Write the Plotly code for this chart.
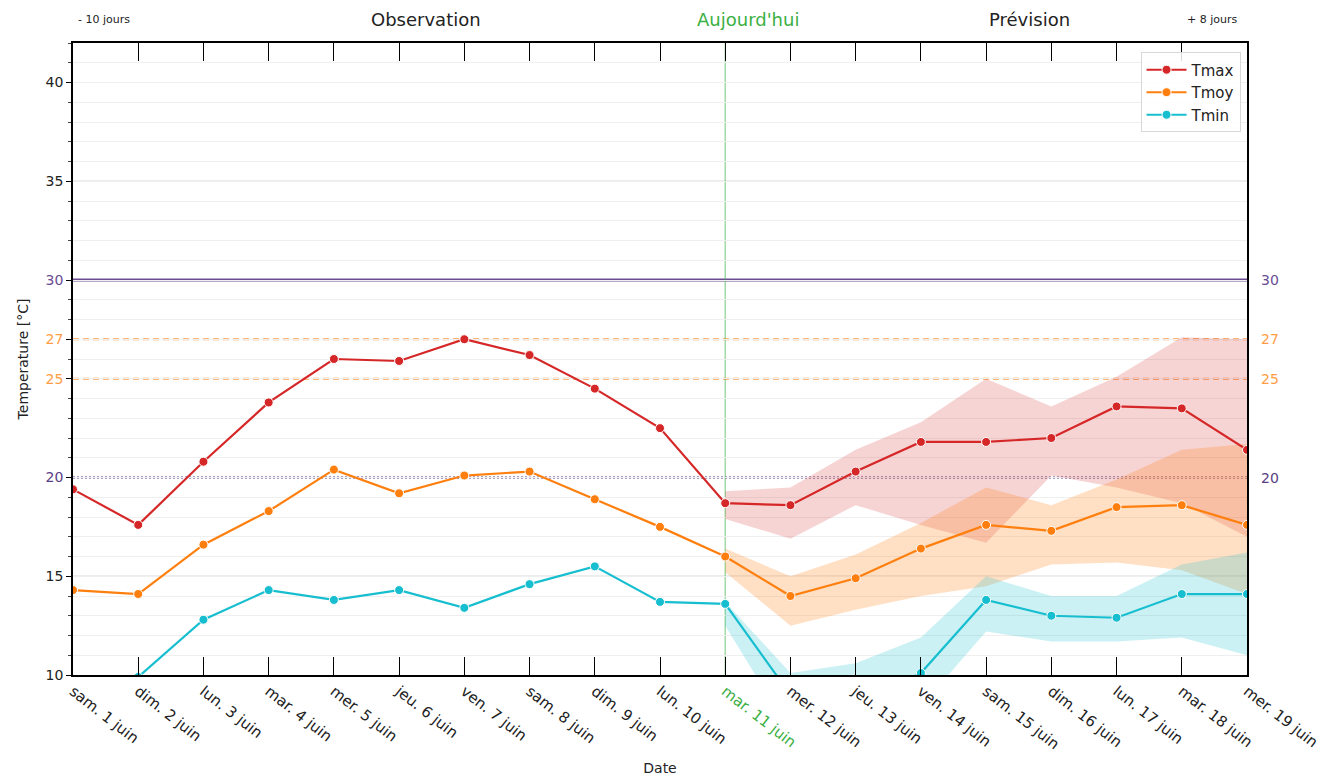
import plotly.graph_objects as go

# ---------------- data ----------------
dates = ["sam. 1 juin", "dim. 2 juin", "lun. 3 juin", "mar. 4 juin", "mer. 5 juin",
         "jeu. 6 juin", "ven. 7 juin", "sam. 8 juin", "dim. 9 juin", "lun. 10 juin",
         "mar. 11 juin", "mer. 12 juin", "jeu. 13 juin", "ven. 14 juin", "sam. 15 juin",
         "dim. 16 juin", "lun. 17 juin", "mar. 18 juin", "mer. 19 juin"]
today = "mar. 11 juin"

tmax = [19.4, 17.6, 20.8, 23.8, 26.0, 25.9, 27.0, 26.2, 24.5, 22.5,
        18.7, 18.6, 20.3, 21.8, 21.8, 22.0, 23.6, 23.5, 21.4]
tmoy = [14.3, 14.1, 16.6, 18.3, 20.4, 19.2, 20.1, 20.3, 18.9, 17.5,
        16.0, 14.0, 14.9, 16.4, 17.6, 17.3, 18.5, 18.6, 17.6]
tmin = [8.6, 9.9, 12.8, 14.3, 13.8, 14.3, 13.4, 14.6, 15.5, 13.7,
        13.6, 9.0, 8.5, 10.1, 13.8, 13.0, 12.9, 14.1, 14.1]

forecast_dates = dates[dates.index(today):]
tmax_hi = [19.3, 19.5, 21.4, 22.8, 25.0, 23.6, 25.1, 27.1, 27.0]
tmax_lo = [17.9, 16.9, 18.6, 17.6, 16.7, 20.1, 19.5, 18.7, 17.0]
tmoy_hi = [16.4, 15.0, 16.1, 17.7, 19.5, 18.6, 19.9, 21.4, 21.7]
tmoy_lo = [15.2, 12.5, 13.3, 14.0, 14.5, 15.6, 15.7, 15.3, 14.1]
tmin_hi = [13.7, 10.1, 10.6, 11.9, 15.0, 14.0, 14.0, 15.6, 16.2]
tmin_lo = [12.5, 7.1, 7.5, 8.4, 12.2, 11.7, 11.7, 11.9, 11.0]

# threshold reference lines
thresholds = [30, 27, 25, 20]
threshold_colors = ["#6a4c93", "#ff9d45", "#ff9d45", "#5a3d85"]
threshold_dash = ["solid", "6px,4px", "6px,4px", "2px,2px"]
threshold_width = [3, 1.8, 1.8, 1.8]

y_ticks = [10, 15, 20, 25, 27, 30, 35, 40]
y_range = [10, 42]

top_labels = ["- 10 jours", "Observation", "Aujourd'hui", "Prévision", "+ 8 jours"]

# ---------------- styling ----------------
FONT = "DejaVu Sans"
C_MAX, C_MOY, C_MIN = "#d62728", "#ff7f0e", "#17becf"
F_MAX, F_MOY, F_MIN = "rgba(214,39,40,0.20)", "rgba(255,127,14,0.24)", "rgba(23,190,207,0.22)"
GREEN = "#3cb043"

fig = go.Figure()

# uncertainty bands
for hi, lo, fc in [(tmax_hi, tmax_lo, F_MAX), (tmoy_hi, tmoy_lo, F_MOY), (tmin_hi, tmin_lo, F_MIN)]:
    fig.add_trace(go.Scatter(x=forecast_dates, y=hi, mode="lines", line=dict(width=0),
                             showlegend=False, hoverinfo="skip"))
    fig.add_trace(go.Scatter(x=forecast_dates, y=lo, mode="lines", line=dict(width=0),
                             fill="tonexty", fillcolor=fc, showlegend=False, hoverinfo="skip"))

# main series
for name, vals, col in [("Tmax", tmax, C_MAX), ("Tmoy", tmoy, C_MOY), ("Tmin", tmin, C_MIN)]:
    fig.add_trace(go.Scatter(x=dates, y=vals, name=name, mode="lines+markers",
                             line=dict(color=col, width=2.2),
                             marker=dict(size=9, color=col, line=dict(color="white", width=1))))

def ylab(v):
    if v in thresholds:
        c = threshold_colors[thresholds.index(v)]
        return f"<span style='color:{c}'>{v}</span>"
    return str(v)

xticktext = [f"<span style='color:{GREEN}'>{d}</span>" if d == today else d for d in dates]

shapes = []
for v in range(10, 45, 5):
    if v not in thresholds and y_range[0] < v < y_range[1]:
        shapes.append(dict(type="line", xref="paper", yref="y", x0=0, x1=1, y0=v, y1=v,
                           line=dict(color="#b4b4b4", width=1.2), layer="below"))
for v, c, d, w in zip(thresholds, threshold_colors, threshold_dash, threshold_width):
    shapes.append(dict(type="line", xref="paper", yref="y", x0=0, x1=1, y0=v, y1=v,
                       line=dict(color=c, width=w, dash=d), layer="below"))
shapes.append(dict(type="line", xref="x", yref="paper", x0=today, x1=today, y0=0, y1=1,
                   line=dict(color="rgba(60,176,67,0.6)", width=1.2), layer="below"))

annotations = []
for v, c in zip(thresholds, threshold_colors):
    annotations.append(dict(x=1, xref="paper", y=v, yref="y", text=str(v), showarrow=False,
                            xanchor="left", xshift=12, font=dict(size=14, color=c, family=FONT)))
top_x = [0.026, 0.301, 0.575, 0.815, 0.970]
top_size = [11, 18, 18, 18, 11]
top_col = ["#222", "#222", GREEN, "#222", "#222"]
for t, xx, s, c in zip(top_labels, top_x, top_size, top_col):
    annotations.append(dict(x=xx, xref="paper", y=1.037, yref="paper", text=t, showarrow=False,
                            xanchor="center", yanchor="middle", borderpad=0,
                            font=dict(size=s, color=c, family=FONT)))

fig.update_layout(
    width=1314, height=768,
    margin=dict(l=65, r=75, t=35, b=101, autoexpand=False),
    paper_bgcolor="white", plot_bgcolor="white",
    font=dict(family=FONT, size=14, color="#222"),
    shapes=shapes, annotations=annotations,
    legend=dict(x=0.9945, y=0.985, xanchor="right", yanchor="top", bgcolor="rgba(255,255,255,0.85)",
                bordercolor="#d8d8d8", borderwidth=1, font=dict(size=15, family=FONT),
                traceorder="normal", itemwidth=40, tracegroupgap=0),
    xaxis=dict(type="category", categoryorder="array", categoryarray=dates,
               range=[0, len(dates) - 1], tickmode="array", tickvals=dates,
               ticktext=xticktext, tickangle=38, ticks="inside", ticklen=18, tickwidth=1.3,
               tickcolor="black", showline=True, linecolor="black", linewidth=1.5,
               mirror="allticks", showgrid=False, zeroline=False,
               tickfont=dict(size=15, family=FONT, color="#222"),
               title=dict(text="Date", standoff=30, font=dict(size=14, family=FONT))),
    yaxis=dict(range=y_range, tickmode="array", tickvals=y_ticks, ticktext=[ylab(v) for v in y_ticks],
               ticks="outside", ticklen=5, tickwidth=1.2, tickcolor="black",
               showline=True, linecolor="black", linewidth=1.5, mirror=True,
               showgrid=False, zeroline=False,
               tickfont=dict(size=14, family=FONT, color="#222"),
               minor=dict(tickmode="linear", tick0=0, dtick=1, ticks="outside", ticklen=3,
                          tickcolor="#444", showgrid=True, gridcolor="#efefef", gridwidth=1),
               title=dict(text="Temperature [°C]", standoff=14, font=dict(size=14, family=FONT))),
)

fig.write_html("out.html")
